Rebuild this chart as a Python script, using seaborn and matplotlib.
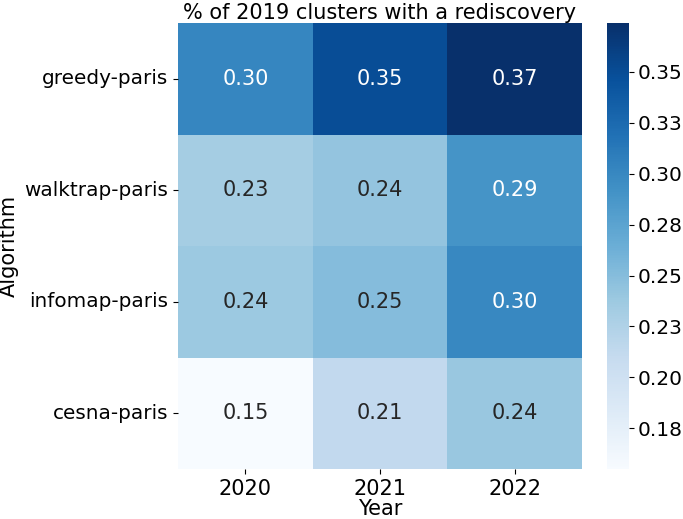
import matplotlib
matplotlib.use("Agg")
import matplotlib.pyplot as plt
import seaborn as sns
import pandas as pd
from matplotlib.ticker import FormatStrFormatter

algorithms = ["greedy-paris", "walktrap-paris", "infomap-paris", "cesna-paris"]
years = ["2020", "2021", "2022"]
greedy = [0.302, 0.350, 0.374]
walktrap = [0.232, 0.243, 0.290]
infomap = [0.238, 0.250, 0.300]
cesna = [0.150, 0.213, 0.240]

df = pd.DataFrame([greedy, walktrap, infomap, cesna], index=algorithms, columns=years)
df.index.name = "Algorithm"
df.columns.name = "Year"

plt.rcParams['font.family'] = ['DejaVu Sans']
FS = 15

fig = plt.figure(figsize=(6.83, 5.19), dpi=100)
ax = fig.add_axes([0.2606, 0.0963, 0.5915, 0.8593])
cax = fig.add_axes([0.8887, 0.0963, 0.0322, 0.8593])

sns.heatmap(df, ax=ax, cbar_ax=cax, cmap="Blues", annot=True, fmt=".2f",
            vmin=0.155, vmax=0.374, annot_kws={"fontsize": FS},
            cbar_kws={"format": FormatStrFormatter("%.2f")})
ax.set_title("% of 2019 clusters with a rediscovery", fontsize=FS, pad=3)
ax.set_xlabel("Year", fontsize=FS, labelpad=0)
ax.set_ylabel("Algorithm", fontsize=FS, labelpad=4)
ax.tick_params(axis="x", labelsize=FS)
ax.tick_params(axis="y", labelsize=14.4)
ax.set_yticklabels(ax.get_yticklabels(), rotation=0)
cax.tick_params(labelsize=14.5, pad=3)
cax.set_frame_on(False)

fig.savefig("out.png", dpi=100)
